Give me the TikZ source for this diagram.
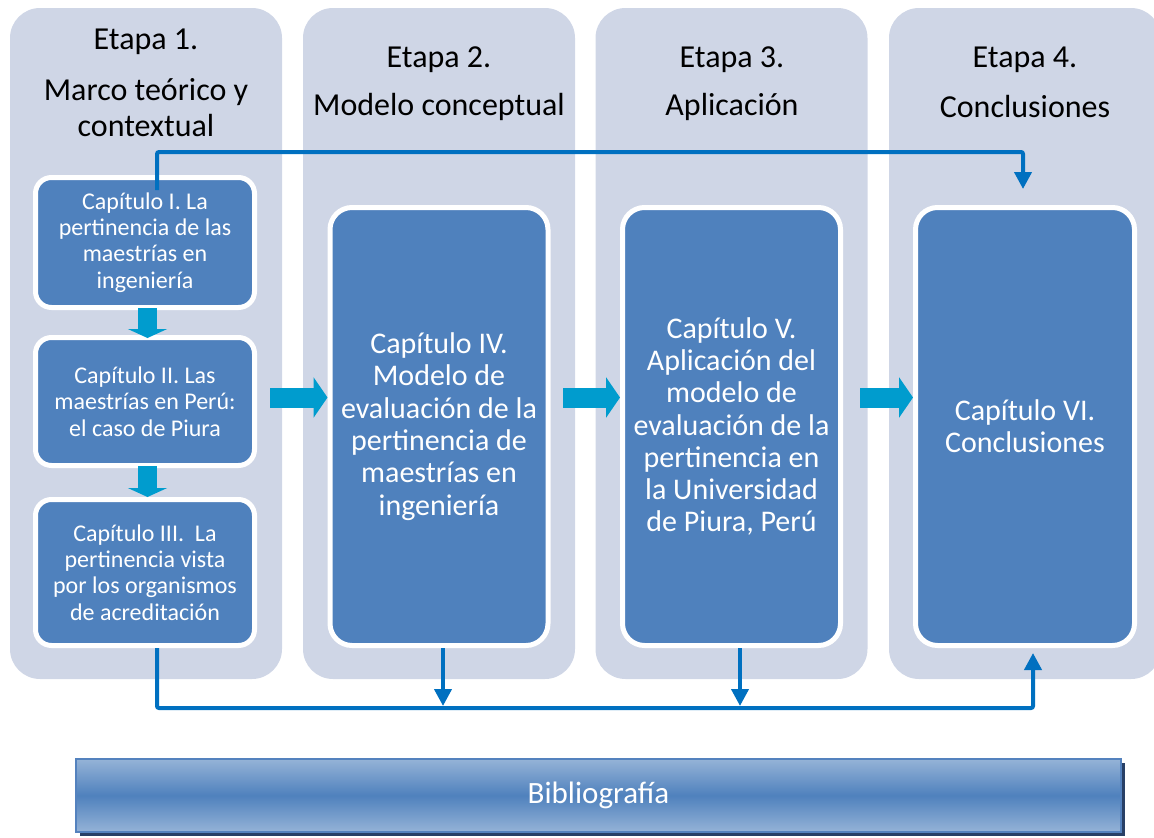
\documentclass[tikz,border=0pt]{standalone}
\usepackage{fontspec}
\setmainfont{Carlito}
\usetikzlibrary{arrows.meta,calc,shadows}
\definecolor{panelc}{RGB}{207,214,230}
\definecolor{boxblue}{RGB}{79,129,189}
\definecolor{arrowblue}{RGB}{0,156,206}
\definecolor{lineblue}{RGB}{0,112,192}
\definecolor{biblight}{RGB}{149,179,215}
\definecolor{bibmid}{RGB}{79,129,189}
\definecolor{bibedge}{RGB}{84,130,190}
\definecolor{shadowc}{RGB}{40,64,102}
\begin{document}
\begin{tikzpicture}[x=1pt,y=-1pt,
  panelbox/.style={fill=panelc,rounded corners=30pt,inner sep=0pt,minimum width=272pt,minimum height=671pt},
  heading/.style={font=\fontsize{32}{36}\selectfont,align=center,text=black,inner sep=0pt},
  smallbox/.style={draw=white,line width=5pt,fill=boxblue,rounded corners=16pt,text=white,align=center,inner sep=0pt,minimum width=219pt,font=\fontsize{24}{26.3}\selectfont},
  bigbox/.style={draw=white,line width=5pt,fill=boxblue,rounded corners=22pt,text=white,align=center,inner sep=0pt,minimum width=218pt,minimum height=438pt,font=\fontsize{30}{32.3}\selectfont},
  blockarr/.style={draw=arrowblue,line width=20pt,-{Triangle[length=14pt,width=40pt]}},
  downarr/.style={draw=arrowblue,line width=19pt,-{Triangle[length=9pt,width=39pt]}},
  flowline/.style={draw=lineblue,line width=4pt,rounded corners=2pt},
  flow/.style={flowline,-{Triangle[length=17pt,width=17pt]}},
  bibbox/.style={draw=bibedge,line width=1.5pt,top color=biblight,bottom color=biblight,middle color=bibmid,
    minimum width=1045pt,minimum height=73pt,inner sep=0pt,text=white,font=\fontsize{31}{34}\selectfont,
    general shadow={fill=shadowc,shadow xshift=3.5pt,shadow yshift=-4pt}}
]
\useasboundingbox (0,0) rectangle (1154,838);
\clip (0,0) rectangle (1154,838);

% panels
\node[panelbox] (p1) at (146,343.5) {};
\node[panelbox] (p2) at (439,343.5) {};
\node[panelbox] (p3) at (731.5,343.5) {};
\node[panelbox] (p4) at (1025,343.5) {};

% headings
\node[heading] (h1a) at (146,42) {Etapa 1.};
\node[heading] (h1b) at (146,108) {Marco teórico y\\contextual};
\node[heading] (h2a) at (439,60) {Etapa 2.};
\node[heading] (h2b) at (439,107) {Modelo conceptual};
\node[heading] (h3a) at (732,60) {Etapa 3.};
\node[heading] (h3b) at (732,107) {Aplicación};
\node[heading] (h4a) at (1025,60) {Etapa 4.};
\node[heading] (h4b) at (1025,107) {Conclusiones};

% chapter boxes
\node[smallbox,minimum height=130pt] (b1) at (145,242.5) {Capítulo I. La\\pertinencia de las\\maestrías en\\ingeniería};
\node[smallbox,minimum height=128pt] (b2) at (145,401.5) {Capítulo II. Las\\maestrías en Perú:\\el caso de Piura};
\node[smallbox,minimum height=146pt] (b3) at (145,572.5) {Capítulo III.\ \ La\\pertinencia vista\\por los organismos\\de acreditación};
\node[bigbox] (b4) at (439,426.5) {Capítulo IV.\\Modelo de\\evaluación de la\\pertinencia de\\maestrías en\\ingeniería};
\node[bigbox] (b5) at (731.5,426.5) {Capítulo V.\\Aplicación del\\modelo de\\evaluación de la\\pertinencia en\\la Universidad\\de Piura, Perú};
\node[bigbox,minimum width=219pt] (b6) at (1025,426.5) {Capítulo VI.\\Conclusiones};

% block arrows
\coordinate (a1s) at (270,397.5);
\coordinate (a2s) at (563,397.5);
\coordinate (a3s) at (860,397.5);
\draw[blockarr] (a1s) -- (a1s -| b4.west);
\draw[blockarr] (a2s) -- (a2s -| b5.west);
\draw[blockarr] (a3s) -- (a3s -| b6.west);
\draw[downarr] ($(b1.south)+(2.5,-2)$) -- ($(b2.north)+(2.5,3)$);
\draw[downarr] ($(b2.south)+(2.5,-2)$) -- ($(b3.north)+(2.5,0)$);

% flow lines
\draw[flow] ($(b1.north)+(12,15)$) |- ($(b6.north)+(-2,-53)$) -- ($(b6.north)+(-2,-16)$);
\draw[flow] ($(b3.south)+(12,0)$) |- ($(b6.south)+(8,60)$) -- ($(b6.south)+(8,5)$);
\draw[flow] ($(b4.south)+(4,0)$) -- ($(b4.south)+(4,58)$);
\draw[flow] ($(b5.south)+(8.5,0)$) -- ($(b5.south)+(8.5,58)$);

% bibliography
\node[bibbox] (bib) at (598.5,795.5) {Bibliografía};
\end{tikzpicture}
\end{document}
